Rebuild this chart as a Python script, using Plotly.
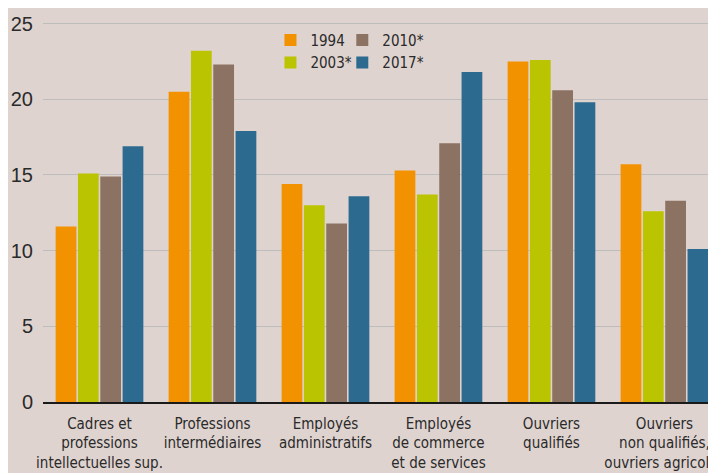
import plotly.graph_objects as go

categories = [
    "Cadres et<br>professions<br>intellectuelles sup.",
    "Professions<br>intermédiaires",
    "Employés<br>administratifs",
    "Employés<br>de commerce<br>et de services",
    "Ouvriers<br>qualifiés",
    "Ouvriers<br>non qualifiés,<br>ouvriers agricoles",
]
series_names = ["1994", "2003*", "2010*", "2017*"]
v1994 = [11.6, 20.5, 14.4, 15.3, 22.5, 15.7]
v2003 = [15.1, 23.2, 13.0, 13.7, 22.6, 12.6]
v2010 = [14.9, 22.3, 11.8, 17.1, 20.6, 13.3]
v2017 = [16.9, 17.9, 13.6, 21.8, 19.8, 10.1]
y_ticks = [0, 5, 10, 15, 20, 25]

colors = ["#F39200", "#BBC400", "#8C7262", "#2C6B8F"]
values = [v1994, v2003, v2010, v2017]
legends = ["legend", "legend", "legend2", "legend2"]

BG = "#DFD3CF"
narrow = "Liberation Sans Narrow, DejaVu Sans Condensed, sans-serif"

fig = go.Figure()
for name, vals, col, lg in zip(series_names, values, colors, legends):
    fig.add_trace(go.Bar(
        x=categories, y=vals, name=name,
        marker=dict(color=col, line=dict(width=0)),
        legend=lg,
    ))

fig.update_layout(
    width=716, height=473,
    margin=dict(l=35, r=0, t=8, b=79),
    paper_bgcolor=BG, plot_bgcolor=BG,
    barmode="group", bargap=0.21, bargroupgap=0.07,
    font=dict(family=narrow, color="#2a2a2a", size=15),
    legend=dict(x=0.334, y=0.98, xanchor="left", yanchor="top",
                bgcolor="rgba(0,0,0,0)", font=dict(family=narrow, size=15),
                tracegroupgap=0, itemwidth=30),
    legend2=dict(x=0.4395, y=0.98, xanchor="left", yanchor="top",
                 bgcolor="rgba(0,0,0,0)", font=dict(family=narrow, size=15),
                 tracegroupgap=0, itemwidth=30),
    xaxis=dict(
        range=[-0.5, 5.527], showgrid=False, ticks="",
        showline=True, linecolor="#1a1a1a", linewidth=1.5,
        tickangle=0, automargin=False, ticklabelstandoff=7,
        tickfont=dict(family=narrow, size=15, color="#2a2a2a"),
    ),
    yaxis=dict(
        range=[0, 25.5], tickvals=y_ticks, ticktext=[str(t) for t in y_ticks],
        showgrid=True, gridcolor="#BDBDBD", gridwidth=1.2,
        zeroline=False, showline=False, ticks="",
        ticklabelstandoff=9, automargin=False,
        tickfont=dict(family="Liberation Sans, Arial, sans-serif", size=20, color="#2a2a2a"),
    ),
)

fig.write_html("out.html")
